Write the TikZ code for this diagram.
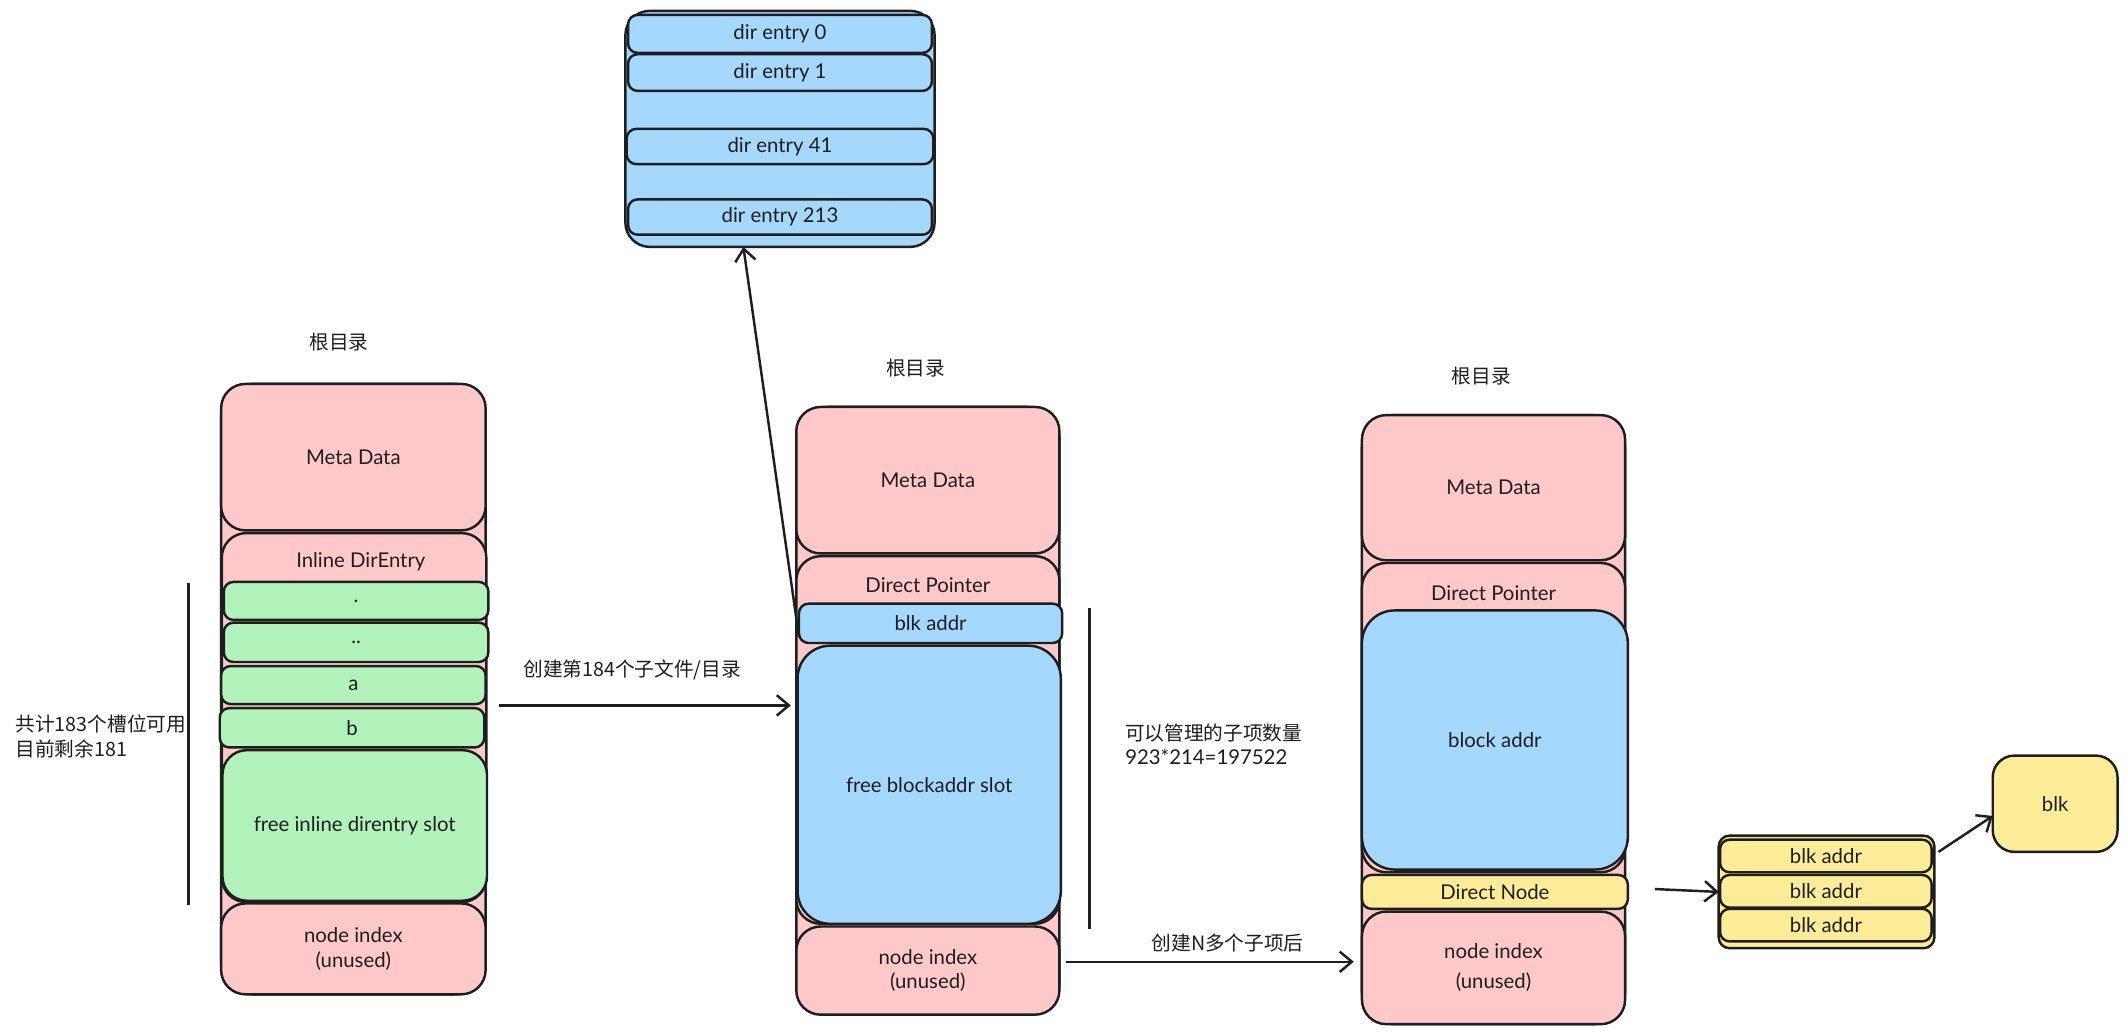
\documentclass[tikz,border=0pt]{standalone}
\usepackage{fontspec}
\setmainfont{Lato}
\newfontfamily\cjk{Noto Sans CJK SC}
\usepackage{tikz}
\usetikzlibrary{arrows.meta}

\definecolor{ink}{HTML}{1E1E1E}
\definecolor{pinkfill}{HTML}{FFC9C9}
\definecolor{greenfill}{HTML}{B2F2BB}
\definecolor{bluefill}{HTML}{A5D8FF}
\definecolor{yellowfill}{HTML}{FFEC99}

\begin{document}
\begin{tikzpicture}[
    x=1pt, y=-1pt,
    every node/.style={font=\fontsize{15}{18}\selectfont, text=ink},
    cell/.style={rectangle, draw=ink, line width=1.8pt, rounded corners=18pt,
                 inner sep=0pt, outer sep=0pt, align=center},
    slim/.style={rounded corners=7pt},
    pinkbox/.style={cell, fill=pinkfill},
    greenbox/.style={cell, fill=greenfill},
    bluebox/.style={cell, fill=bluefill},
    yellowbox/.style={cell, fill=yellowfill},
    cjklbl/.style={font=\cjk\fontsize{14.5}{18}\selectfont},
    bar/.style={draw=ink, line width=2.2pt},
    arrow/.style={-{Straight Barb[length=9pt, width=15pt]}, draw=ink, line width=1.8pt}
  ]

  \path[use as bounding box, fill=white] (0,0) rectangle (1568,763);

  % Top: directory block
  \node[bluebox, minimum width=228pt, minimum height=174pt] (dirs) at (575,95) {};
  \node[bluebox, slim, minimum width=224pt, minimum height=28pt] (ent0) at (575,25) {dir entry 0};
  \node[bluebox, slim, minimum width=224pt, minimum height=27pt] (ent1) at (575,53.5) {dir entry 1};
  \node[bluebox, slim, minimum width=226pt, minimum height=26pt] (ent41) at (575,108) {dir entry 41};
  \node[bluebox, slim, minimum width=224pt, minimum height=26pt] (ent213) at (575,160) {dir entry 213};

  % Left column: inline dir entries
  \node[cjklbl] (title1) at (250,252) {根目录};
  \node[pinkbox, minimum width=195pt, minimum height=450pt, rounded corners=24pt] (col1) at (260.5,508) {};
  \node[pinkbox, minimum width=195pt, minimum height=108pt] (meta1) at (260.5,337) {Meta Data};
  \node[pinkbox, minimum width=195pt, minimum height=272pt] (inl1) at (261,529) {};
  \node (inl1txt) at (266,414) {Inline DirEntry};
  \node[greenbox, slim, minimum width=195pt, minimum height=28pt] (dot1) at (262.5,443) {.};
  \node[greenbox, slim, minimum width=195pt, minimum height=29pt] (dotdot1) at (262.5,473.5) {..};
  \node[greenbox, slim, minimum width=195pt, minimum height=28pt] (a1) at (260.5,505) {a};
  \node[greenbox, slim, minimum width=195pt, minimum height=29pt] (b1) at (259.5,536.5) {b};
  \node[greenbox, minimum width=195pt, minimum height=111pt] (free1) at (261.5,608.5) {free inline direntry slot};
  \node[pinkbox, minimum width=195pt, minimum height=67pt] (idx1) at (260.5,699.5) {node index\\(unused)};
  \coordinate (bar1top) at (139,430);
  \coordinate (bar1bot) at (139,667);
  \node[cjklbl, anchor=west, align=left] (cnt1) at (8,543) {共计183个槽位可用\\目前剩余181};

  % Middle column: direct pointer
  \node[cjklbl] (title2) at (675,271) {根目录};
  \node[pinkbox, minimum width=194pt, minimum height=448pt, rounded corners=24pt] (col2) at (684,524) {};
  \node[pinkbox, minimum width=194pt, minimum height=108pt] (meta2) at (684,354) {Meta Data};
  \node[pinkbox, minimum width=194pt, minimum height=271pt] (ptr2) at (684,545.5) {};
  \node (ptr2txt) at (684,431) {Direct Pointer};
  \node[bluebox, slim, minimum width=194pt, minimum height=29pt] (blk2) at (686,459.5) {blk addr};
  \node[bluebox, rounded corners=24pt, minimum width=194pt, minimum height=205pt] (free2) at (685,578.5) {free blockaddr slot};
  \node[pinkbox, minimum width=194pt, minimum height=65pt] (idx2) at (684,715.5) {node index\\(unused)};
  \coordinate (bar2top) at (803,448);
  \coordinate (bar2bot) at (803,685);
  \node[anchor=west, align=left] (cnt2) at (826,548.5) {{\cjk\fontsize{14.5}{18}\selectfont 可以管理的子项数量}\\923*214=197522};

  % Right column: direct node
  \node[cjklbl] (title3) at (1092,277) {根目录};
  \node[pinkbox, minimum width=194pt, minimum height=449pt, rounded corners=24pt] (col3) at (1101,530.5) {};
  \node[pinkbox, minimum width=194pt, minimum height=107pt] (meta3) at (1101,359.5) {Meta Data};
  \node[pinkbox, minimum width=194pt, minimum height=228pt] (ptr3) at (1101,529) {};
  \node (ptr3txt) at (1101,437) {Direct Pointer};
  \node[bluebox, rounded corners=24pt, minimum width=196pt, minimum height=191pt] (baddr3) at (1102,545.5) {block addr};
  \node[yellowbox, slim, minimum width=196pt, minimum height=25pt] (dn3) at (1102,657.5) {Direct Node};
  \node[pinkbox, minimum width=194pt, minimum height=83pt] (idx3) at (1101,713.5) {node index\\[4pt](unused)};

  % Direct node block and data block
  \node[yellowbox, rounded corners=8pt, minimum width=159pt, minimum height=83pt] (stk) at (1346.5,657.5) {};
  \node[yellowbox, slim, minimum width=156pt, minimum height=24pt] (s1) at (1346,631) {blk addr};
  \node[yellowbox, slim, minimum width=156pt, minimum height=24pt] (s2) at (1346,657) {blk addr};
  \node[yellowbox, slim, minimum width=156pt, minimum height=24pt] (s3) at (1346,682) {blk addr};
  \node[yellowbox, rounded corners=16pt, minimum width=92pt, minimum height=71pt] (blk) at (1515,592.5) {blk};

  % Labels on arrows
  \node[cjklbl] (mk1) at (466,494) {创建第184个子文件/目录};
  \node[cjklbl] (mk2) at (905,695) {创建N多个子项后};

  % Connections
  \draw[bar] (bar1top) -- (bar1bot);
  \draw[bar] (bar2top) -- (bar2bot);
  \draw[arrow, shorten <=10pt, shorten >=4pt] ([yshift=-12pt]col1.east) -- ([yshift=-12pt]col1.east -| col2.west);
  \draw[arrow] ([yshift=-10pt]blk2.west) -- ([xshift=-27pt]dirs.south);
  \draw[arrow, shorten <=5pt, shorten >=6pt] ([yshift=6.5pt]idx2.east) -- ([yshift=6.5pt]idx2.east -| col3.west);
  \draw[arrow, shorten <=20pt] ([yshift=3pt]dn3.east) -- (dn3.east -| stk.west);
  \draw[arrow] ([xshift=5pt, yshift=3pt]s1.east) -- ([yshift=-9pt]blk.west);

\end{tikzpicture}
\end{document}
